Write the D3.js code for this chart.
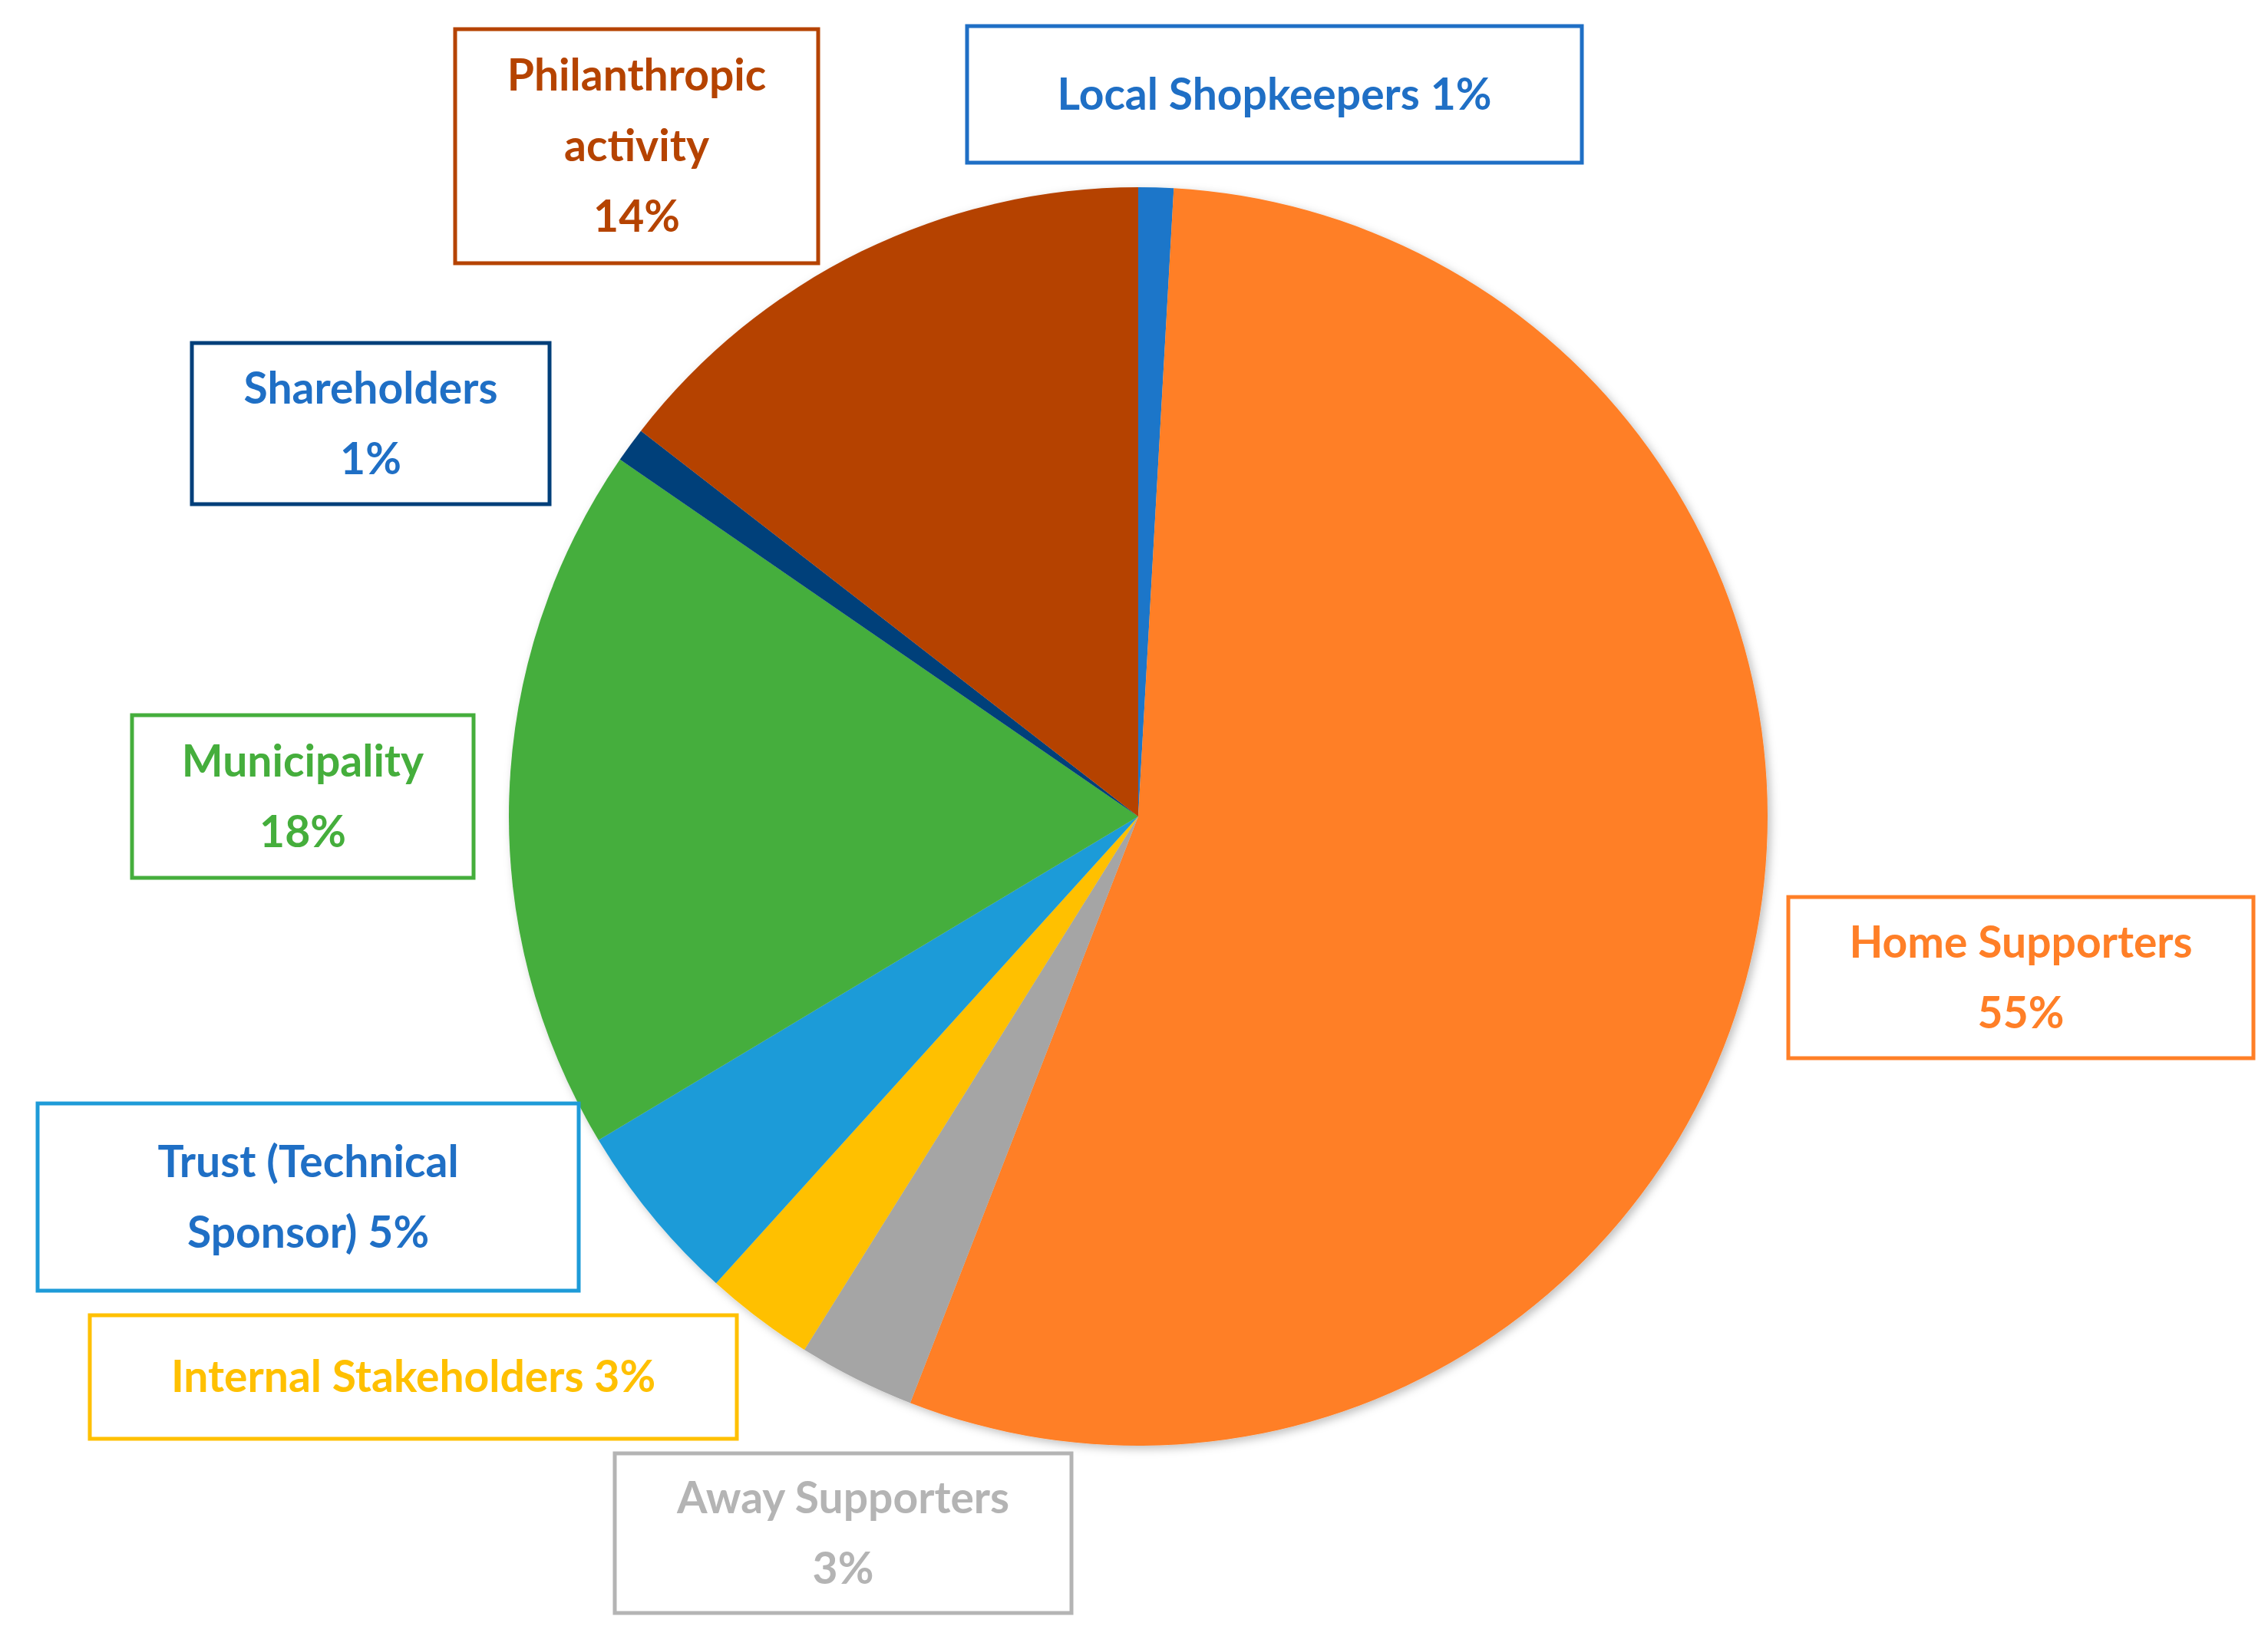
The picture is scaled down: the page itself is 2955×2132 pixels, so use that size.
<!DOCTYPE html>
<html>
<head>
<meta charset="utf-8">
<script src="https://cdn.jsdelivr.net/npm/d3@7"></script>
<style>
  body { margin: 0; background: #fff; }
</style>
</head>
<body>
<div id="chart"></div>
<script>
// data, clockwise from 12 o'clock
const categories = ["Local Shopkeepers", "Home Supporters", "Away Supporters", "Internal Stakeholders",
  "Trust (Technical Sponsor)", "Municipality", "Shareholders", "Philanthropic activity"]
const shares = [0.9, 55, 3, 2.8, 4.7, 18.2, 0.9, 14.5]
const pctLabels = ["1%", "55%", "3%", "3%", "5%", "18%", "1%", "14%"]
const sliceColors = ["#1b76c9", "#ff7f27", "#a5a5a5", "#ffc000", "#1e9bd8", "#45ae3c", "#003f7a", "#b54300"]
const textColors = ["#1f6fc5", "#ff7f27", "#b4b4b4", "#ffc000", "#1f6fc5", "#45ae3c", "#1f6fc5", "#b54300"]
const borderColors = ["#1f6fc5", "#ff7f27", "#b4b4b4", "#ffc000", "#1e9bd8", "#45ae3c", "#003f7a", "#b54300"]

// label box layout: [x0, y0, x1, y1] and text lines
const labelBoxes = [
  { box: [1260, 34, 2061, 212], lines: ["Local Shopkeepers 1%"] },
  { box: [2330, 1169, 2936, 1379], lines: ["Home Supporters", "55%"] },
  { box: [801, 1894, 1396, 2102], lines: ["Away Supporters", "3%"] },
  { box: [117, 1714, 960, 1875], lines: ["Internal Stakeholders 3%"] },
  { box: [49, 1438, 754, 1682], lines: ["Trust (Technical", "Sponsor) 5%"] },
  { box: [172, 932, 617, 1144], lines: ["Municipality", "18%"] },
  { box: [250, 447, 716, 657], lines: ["Shareholders", "1%"] },
  { box: [593, 38, 1066, 343], lines: ["Philanthropic", "activity", "14%"] }
]

const width = 2955, height = 2132
const cx = 1483, cy = 1064, radius = 820

const svg = d3.select("#chart").append("svg")
  .attr("width", width).attr("height", height)

const defs = svg.append("defs")
const filter = defs.append("filter").attr("id", "shadow")
  .attr("x", "-10%").attr("y", "-10%").attr("width", "120%").attr("height", "120%")
filter.append("feDropShadow").attr("dx", 4).attr("dy", 4).attr("stdDeviation", 6)
  .attr("flood-color", "#000").attr("flood-opacity", 0.25)

const pie = d3.pie().sort(null).value(d => d)
const arc = d3.arc().innerRadius(0).outerRadius(radius)

svg.append("g")
  .attr("transform", `translate(${cx},${cy})`)
  .attr("filter", "url(#shadow)")
  .selectAll("path")
  .data(pie(shares))
  .join("path")
    .attr("d", arc)
    .attr("fill", (d, i) => sliceColors[i])

const fontSize = 57
const lineH = 92

const labels = svg.append("g").selectAll("g")
  .data(labelBoxes)
  .join("g")

labels.append("rect")
  .attr("x", d => d.box[0])
  .attr("y", d => d.box[1])
  .attr("width", d => d.box[2] - d.box[0])
  .attr("height", d => d.box[3] - d.box[1])
  .attr("fill", "#fff")
  .attr("stroke", (d, i) => borderColors[i])
  .attr("stroke-width", 5)

labels.each(function(d, i) {
  const g = d3.select(this)
  const mx = (d.box[0] + d.box[2]) / 2
  const my = (d.box[1] + d.box[3]) / 2
  const n = d.lines.length
  g.selectAll("text")
    .data(d.lines)
    .join("text")
      .attr("x", mx)
      .attr("y", (t, j) => my + (j - (n - 1) / 2) * lineH)
      .attr("dy", "0.35em")
      .attr("text-anchor", "middle")
      .attr("font-family", "Lato, 'Open Sans', sans-serif")
      .attr("font-weight", "bold")
      .attr("font-size", fontSize)
      .attr("fill", textColors[i])
      .text(t => t)
})
</script>
</body>
</html>
